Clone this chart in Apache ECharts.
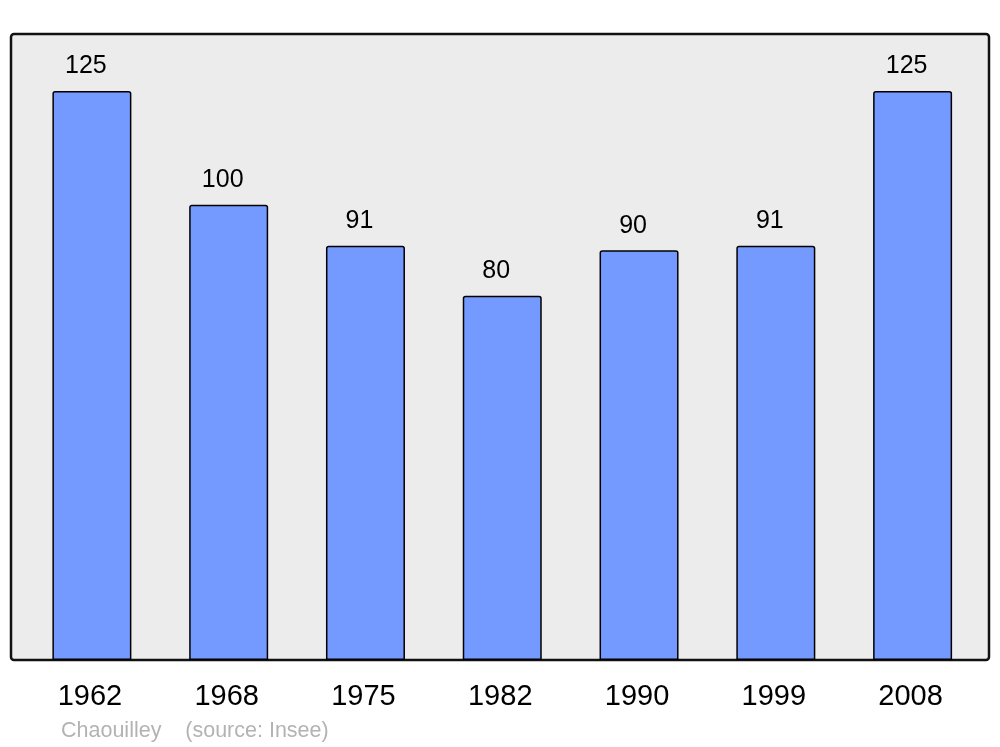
<!DOCTYPE html>
<html><head><meta charset="utf-8">
<script src="https://cdn.jsdelivr.net/npm/echarts@6/dist/echarts.min.js"></script>
<style>html,body{margin:0;padding:0;background:#fff}#c{width:1000px;height:747px}</style>
</head><body><div id="c"></div>
<script>
const categories = ['1962','1968','1975','1982','1990','1999','2008'];
const population = [125,100,91,80,90,91,125];
const footerText = 'Chaouilley    (source: Insee)';

const chart = echarts.init(document.getElementById('c'), null, {renderer:'canvas'});
chart.setOption({
  animation:false,
  textStyle:{fontFamily:'Liberation Sans, Arial, sans-serif'},
  graphic:[
    {type:'rect', z:-1, shape:{x:11,y:34,width:978,height:626,r:3},
     style:{fill:'#ececec', stroke:'#111', lineWidth:2.5}},
    {type:'text', left:61, top:720, style:{text:footerText, fill:'#b3b3b3', font:'21.5px "Liberation Sans", Arial, sans-serif'}}
  ],
  grid:{left:23.5, right:19, top:34, bottom:87},
  xAxis:{type:'category', data:categories,
    axisLine:{show:false}, axisTick:{show:false},
    axisLabel:{color:'#000', fontSize:29, margin:22, padding:[0,4,0,0]}},
  yAxis:{type:'value', min:0, max:137.5, show:false, splitLine:{show:false}},
  series:[{type:'bar', data:population, barWidth:79,
    itemStyle:{color:'#7499ff', borderColor:'#000', borderWidth:1.5, borderRadius:[2,2,0,0]},
    label:{show:true, position:'top', distance:12, color:'#000', fontSize:25, offset:[-6,0]}}]
});
</script></body></html>
